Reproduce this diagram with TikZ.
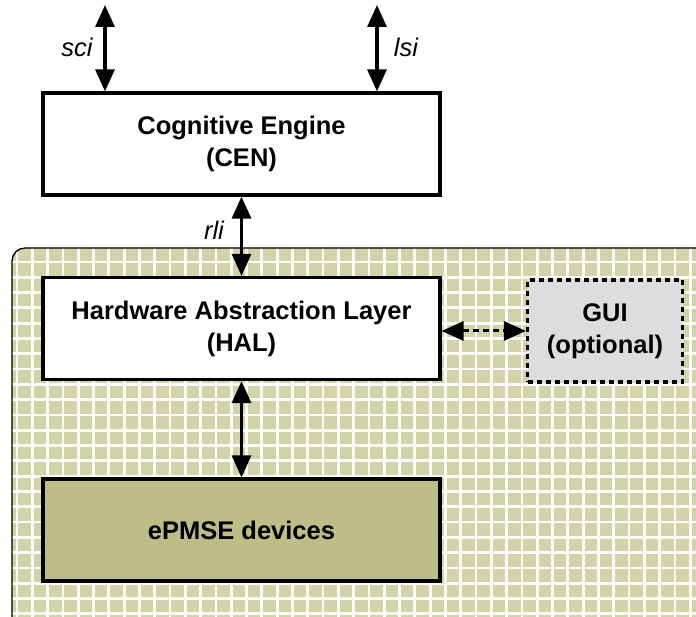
\documentclass[tikz,border=0pt]{standalone}
\usepackage{fontspec}
\setmainfont{Liberation Sans}
\usetikzlibrary{arrows.meta}
\definecolor{olivebg}{RGB}{211,211,170}
\definecolor{olivedev}{RGB}{189,189,134}
\definecolor{guigray}{RGB}{221,221,221}
\tikzset{
  box/.style={draw=black, line width=3.2pt, fill=white, minimum width=397pt, minimum height=102pt,
    align=center, font=\fontsize{25.5}{32}\selectfont\bfseries},
  guibox/.style={box, fill=guigray, dash pattern=on 5pt off 4pt, minimum width=155pt},
  biarrow/.style={line width=3.2pt, >={Triangle[length=22pt,width=19pt]}, <->},
  lbl/.style={font=\fontsize{25.5}{30}\selectfont\itshape}
}
\begin{document}
\begin{tikzpicture}[x=1pt,y=1pt]
\useasboundingbox (0,0) rectangle (696,617);
% shaded region with white grid
\begin{scope}
\clip[rounded corners=13pt] (12,369) -- (720,369) -- (720,-20) -- (12,-20) -- cycle;
\fill[olivebg] (0,-20) rectangle (720,380);
\foreach \i in {0,...,45} \draw[white!92!olivebg, line width=2.8pt] (17+15.3*\i,-20) -- (17+15.3*\i,380);
\foreach \j in {0,...,25} \draw[white!92!olivebg, line width=2.8pt] (0,355-15.3*\j) -- (720,355-15.3*\j);
\end{scope}
\draw[line width=1.3pt, rounded corners=13pt] (720,369) -- (12,369) -- (12,-20);

\node[box] (cen) at (241.5,473) {Cognitive Engine\\(CEN)};
\node[box] (hal) at (241.5,288.5) {Hardware Abstraction Layer\\(HAL)};
\node[box, fill=olivedev] (dev) at (241.5,87) {ePMSE devices};
\node[guibox] (gui) at (605,286) {GUI\\(optional)};

\coordinate (scitop) at (105,612);
\coordinate (lsitop) at (377,612);
\draw[biarrow] (scitop) -- (scitop |- cen.north);
\draw[biarrow] (lsitop) -- (lsitop |- cen.north);
\node[lbl] (sci) at (77,570) {sci};
\node[lbl] (lsi) at (406,570) {lsi};

\draw[biarrow] (cen.south) -- (hal.north);
\node[lbl] (rli) at (214,387) {rli};
\draw[biarrow] (hal.south) -- (dev.north);
\draw[biarrow, dash pattern=on 6pt off 4pt, line width=3pt] (hal.east |- gui.west) -- (gui.west);
\end{tikzpicture}
\end{document}
